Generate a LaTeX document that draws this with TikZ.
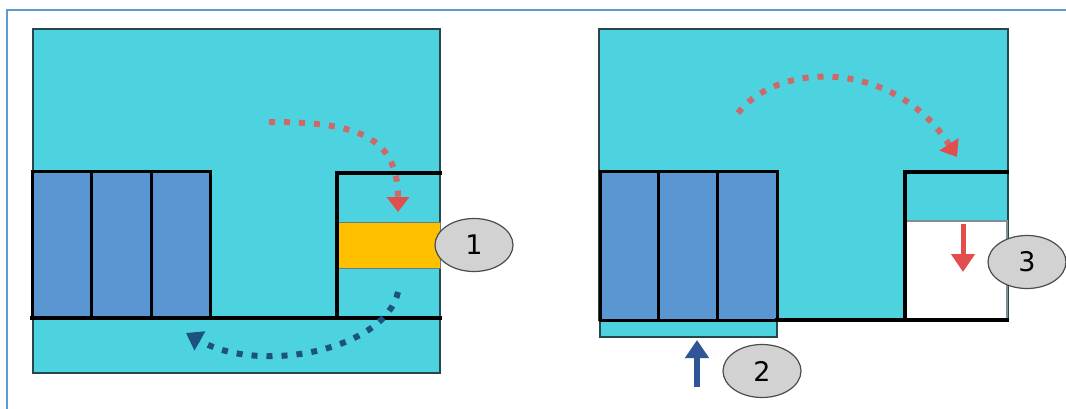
\documentclass[tikz,border=0pt]{standalone}
\usepackage{fontspec}
\setmainfont{DejaVu Sans}
\usetikzlibrary{arrows.meta,shapes.geometric}
\definecolor{cy}{RGB}{77,211,224}
\definecolor{bl}{RGB}{90,150,210}
\definecolor{yl}{RGB}{255,192,0}
\definecolor{fr}{RGB}{91,155,213}
\definecolor{rd}{RGB}{226,78,78}
\definecolor{rdd}{RGB}{205,105,105}
\definecolor{dbl}{RGB}{28,82,128}
\definecolor{nb}{RGB}{47,85,151}
\definecolor{edgec}{RGB}{40,70,75}
\begin{document}
\begin{tikzpicture}[x=1pt,y=-1pt,
  panel/.style={fill=cy,draw=edgec,line width=1.5pt},
  block/.style={fill=bl,draw=black,line width=3pt},
  wall/.style={draw=black,line width=3.5pt,line cap=rect},
  badge/.style={ellipse,fill=gray!35,draw=black!70,line width=1.2pt,minimum width=78pt,minimum height=53pt,inner sep=0pt,font=\fontsize{27}{30}\selectfont},
  dotred/.style={draw=rdd,line width=6pt,dash pattern=on 6pt off 9pt,-{Triangle[length=15pt,width=22pt,color=rd]}},
  dotblue/.style={draw=dbl,line width=6pt,dash pattern=on 6pt off 9pt,-{Triangle[length=16pt,width=21pt]}},
  solidarrow/.style={line width=5.5pt,-{Triangle[length=18pt,width=23pt]}}
]
\useasboundingbox (0,0) rectangle (1066,409);
\fill[white] (0,0) rectangle (1066,409);
\draw[fr,line width=2pt] (7,409) -- (7,10) -- (1066,10);

% left panel
\draw[panel] (33,29) rectangle (440,373);
\draw[block] (32,172) rectangle (91,318);
\draw[block] (91,172) rectangle (151,318);
\draw[block] (151,172) rectangle (210,318);
\draw[fill=yl,draw=edgec!70,line width=0.8pt] (337,222) rectangle (440,268);
\draw[wall] (337,318) -- (337,173) -- (440,173);
\draw[wall] (32,318) -- (440,318);

\coordinate (r1s) at (269,122);
\coordinate (r1e) at (398,212);
\draw[dotred] (r1s) .. controls (355,122) and (398,135) .. (r1e);
\coordinate (b1s) at (398,292);
\coordinate (b1e) at (186,333);
\draw[dotblue] (b1s) .. controls (385,350) and (260,375) .. (b1e);

\node[badge] (n1) at (474,245) {1};

% right panel
\draw[panel] (599,29) rectangle (1008,320);
\draw[panel] (600,320) rectangle (777,337);
\draw[block] (600,172) rectangle (658,320);
\draw[block] (658,172) rectangle (717,320);
\draw[block] (717,172) rectangle (777,320);
\draw[fill=white,draw=edgec!60,line width=1.2pt] (906,221) rectangle (1007,320);
\draw[wall] (905,320) -- (905,172) -- (1007,172);
\draw[wall] (777,320) -- (1007,320);

\coordinate (r2s) at (738,113);
\coordinate (r2e) at (957,157);
\draw[dotred] (r2s) .. controls (780,60) and (895,60) .. (r2e);

\coordinate (a2s) at (697,387);
\coordinate (a2e) at (697,340);
\draw[solidarrow,nb] (a2s) -- (a2e);
\coordinate (a3s) at (963,224);
\coordinate (a3e) at (963,272);
\draw[solidarrow,rd,line width=5pt] (a3s) -- (a3e);

\node[badge] (n2) at (762,371) {2};
\node[badge] (n3) at (1027,262) {3};
\end{tikzpicture}
\end{document}
